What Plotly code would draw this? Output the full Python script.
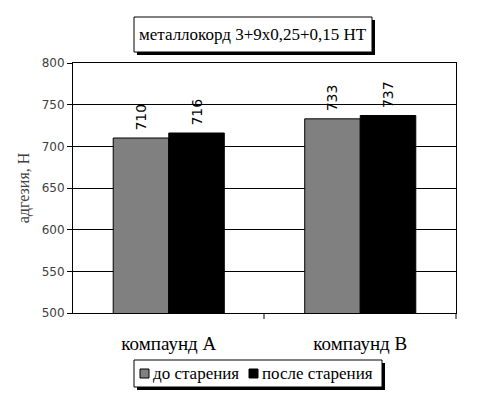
import plotly.graph_objects as go

categories = ["компаунд А", "компаунд В"]
before = [710, 733]
after = [716, 737]
series_names = ["до старения", "после старения"]
series_colors = ["#808080", "#000000"]
title_text = "металлокорд 3+9х0,25+0,15 НТ"
y_title = "адгезия, Н"
y_ticks = [500, 550, 600, 650, 700, 750, 800]

serif = "Liberation Serif, Times New Roman, serif"
sans = "DejaVu Sans, Arial, sans-serif"

W, H = 480, 396
ML, MR, MT, MB = 73, 24, 63, 83

fig = go.Figure()
for name, vals, col in zip(series_names, [before, after], series_colors):
    fig.add_trace(go.Bar(x=categories, y=vals, name=name,
                         marker=dict(color=col, line=dict(color="#000000", width=1)),
                         text=["\u00a0" + str(v) for v in vals], textposition="outside",
                         textangle=-90, textfont=dict(family=sans, size=14, color="#000"),
                         cliponaxis=False))

fig.update_layout(
    width=W, height=H,
    margin=dict(l=ML, r=MR, t=MT, b=MB, autoexpand=False),
    paper_bgcolor="white", plot_bgcolor="white",
    barmode="group", bargap=0.42, bargroupgap=0,
    showlegend=False,
    xaxis=dict(showline=True, linecolor="#000", linewidth=1, mirror=True,
               ticks="", showgrid=False, ticklabelstandoff=13,
               tickfont=dict(family=serif, size=19, color="#000")),
    yaxis=dict(range=[500, 800], tickvals=y_ticks, showline=True, linecolor="#000",
               linewidth=1, mirror=True, ticks="outside", ticklen=5, tickcolor="#000",
               showgrid=True, gridcolor="#000", gridwidth=1, zeroline=False,
               tickfont=dict(family=sans, size=12, color="#404040"),
               title=dict(text=y_title, font=dict(family=serif, size=16, color="#404040"),
                          standoff=8)),
    font=dict(family=serif),
)

def px_to_paper(x, y):
    pw = W - ML - MR
    ph = H - MT - MB
    return (x - ML) / pw, (H - MB - y) / ph

# category divider ticks on the x axis
for xpx in [264, 456]:
    xa, yb = px_to_paper(xpx, H - MB + 6)
    fig.add_shape(type="line", xref="paper", yref="paper", x0=xa, x1=xa,
                  y0=0, y1=yb, line=dict(color="#000", width=1))

def boxed(x0, y0, x1, y1):
    sx0, sy0 = px_to_paper(x0 + 3, y0 + 3)
    sx1, sy1 = px_to_paper(x1 + 3, y1 + 3)
    fig.add_shape(type="rect", xref="paper", yref="paper", x0=sx0, y0=sy0, x1=sx1, y1=sy1,
                  fillcolor="#000", line=dict(width=0), layer="above")
    bx0, by0 = px_to_paper(x0, y0)
    bx1, by1 = px_to_paper(x1, y1)
    fig.add_shape(type="rect", xref="paper", yref="paper", x0=bx0, y0=by0, x1=bx1, y1=by1,
                  fillcolor="white", line=dict(color="#000", width=1), layer="above")

# title box
boxed(134, 17, 372, 52)
cx, cy = px_to_paper(253, 35)
fig.add_annotation(text=title_text, xref="paper", yref="paper", x=cx, y=cy,
                   xanchor="center", yanchor="middle",
                   showarrow=False, font=dict(family=serif, size=17, color="#000"))

# legend box
boxed(134, 360, 382, 387)
for name, col, sqx, tx in zip(series_names, series_colors, [140, 249], [151, 260]):
    qx0, qy0 = px_to_paper(sqx, 369)
    qx1, qy1 = px_to_paper(sqx + 9, 378)
    fig.add_shape(type="rect", xref="paper", yref="paper", x0=qx0, y0=qy0, x1=qx1, y1=qy1,
                  fillcolor=col, line=dict(color="#000", width=1), layer="above")
    ax, ay = px_to_paper(tx, 373.5)
    fig.add_annotation(text=name, xref="paper", yref="paper", x=ax, y=ay,
                       xanchor="left", yanchor="middle", showarrow=False,
                       font=dict(family=serif, size=17, color="#000"))

fig.write_html("out.html")
